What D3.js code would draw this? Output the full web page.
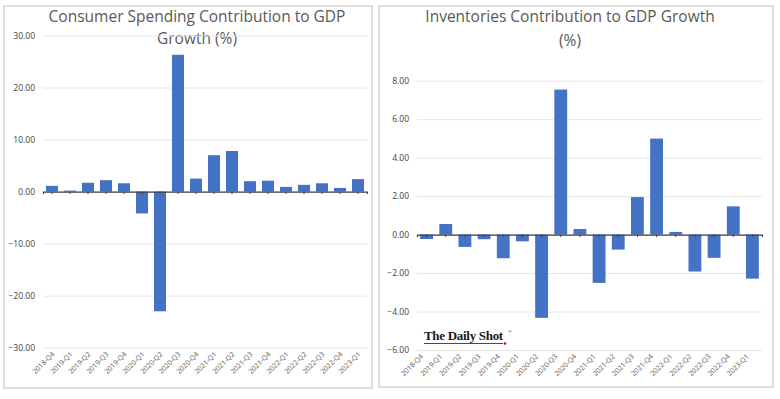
<!DOCTYPE html>
<html>
<head>
<meta charset="utf-8">
<script src="https://cdn.jsdelivr.net/npm/d3@7"></script>
<style>
  body { margin: 0; background: #fff; }
  svg { display: block; }
</style>
</head>
<body>
<div id="chart"></div>
<script>
// Quarters shown on both panels
const quarters = ["2018-Q4", "2019-Q1", "2019-Q2", "2019-Q3", "2019-Q4", "2020-Q1", "2020-Q2",
                  "2020-Q3", "2020-Q4", "2021-Q1", "2021-Q2", "2021-Q3", "2021-Q4", "2022-Q1",
                  "2022-Q2", "2022-Q3", "2022-Q4", "2023-Q1"];

// Consumer spending contribution to GDP growth (%)
const consumerValues = [1.1, 0.2, 1.7, 2.2, 1.6, -4.2, -23.0, 26.3, 2.5, 7.0, 7.8, 2.0, 2.1, 0.9, 1.3, 1.6, 0.7, 2.4];
const consumerTicks = [-30, -20, -10, 0, 10, 20, 30];

// Inventories contribution to GDP growth (%)
const inventoryValues = [-0.23, 0.55, -0.64, -0.24, -1.23, -0.35, -4.33, 7.54, 0.29, -2.51, -0.78, 1.95, 4.99, 0.14, -1.92, -1.21, 1.47, -2.29];
const inventoryTicks = [-6, -4, -2, 0, 2, 4, 6, 8];

const width = 780, height = 399;
const barColor = "#4472c4";
const textColor = "#595959";

const svg = d3.select("#chart")
              .append("svg")
              .attr("width", width)
              .attr("height", height);

function drawPanel(cfg) {
    // Panel frame
    svg.append("rect")
       .attr("x", cfg.box[0])
       .attr("y", cfg.box[1])
       .attr("width", cfg.box[2])
       .attr("height", cfg.box[3])
       .attr("fill", "#fff")
       .attr("stroke", "#d4d4d4")
       .attr("stroke-width", 1.5);

    // Title, two lines
    const title = svg.append("text")
                     .attr("text-anchor", "middle")
                     .attr("fill", textColor)
                     .style("font-family", "'Open Sans', sans-serif")
                     .style("font-size", "15.5px");
    cfg.title.forEach(function (line, i) {
        title.append("tspan")
             .attr("x", cfg.titleX)
             .attr("y", cfg.titleY[i])
             .text(line);
    });

    const xScale = d3.scaleBand()
                     .domain(quarters)
                     .range(cfg.xRange)
                     .paddingInner(0.33)
                     .paddingOuter(0.165);

    const yScale = d3.scaleLinear()
                     .domain(d3.extent(cfg.ticks))
                     .range(cfg.yRange);

    // Gridlines and tick labels
    const yAxis = svg.append("g")
                     .attr("transform", "translate(" + cfg.xRange[0] + ",0)")
                     .call(d3.axisLeft(yScale)
                             .tickValues(cfg.ticks)
                             .tickSize(-(cfg.xRange[1] - cfg.xRange[0]))
                             .tickPadding(8)
                             .tickFormat(d3.format(".2f")));
    yAxis.select(".domain").remove();
    yAxis.selectAll(".tick line").attr("stroke", "#e6e6e6").attr("stroke-width", 1);
    yAxis.selectAll(".tick text")
         .attr("fill", "#404040")
         .style("font-family", "'Open Sans', sans-serif")
         .style("font-size", "8.5px");

    // Bars
    svg.append("g")
       .selectAll("rect")
       .data(cfg.values)
       .join("rect")
       .attr("x", (d, i) => xScale(quarters[i]))
       .attr("y", d => yScale(Math.max(0, d)))
       .attr("width", xScale.bandwidth())
       .attr("height", d => Math.abs(yScale(d) - yScale(0)))
       .attr("fill", barColor);

    // Zero axis line with small ticks
    const zeroAxis = svg.append("g")
                        .attr("transform", "translate(0," + yScale(0) + ")")
                        .call(d3.axisBottom(xScale).tickSize(2.5).tickFormat(""));
    zeroAxis.select(".domain").attr("stroke", "#404040").attr("stroke-width", 1.2);
    zeroAxis.selectAll(".tick line").attr("stroke", "#404040");

    // Rotated category labels at the bottom
    svg.append("g")
       .selectAll("text")
       .data(quarters)
       .join("text")
       .attr("transform", d => "translate(" + (xScale(d) + xScale.bandwidth() / 2 + cfg.labelDx) + "," + (cfg.yRange[0] + 7) + ") rotate(-45)")
       .attr("text-anchor", "end")
       .attr("fill", textColor)
       .style("font-family", "'Open Sans', sans-serif")
       .style("font-size", "7px")
       .text(d => d);
}

drawPanel({
    box: [4, 6, 368, 382],
    title: ["Consumer Spending Contribution to GDP", "Growth (%)"],
    titleX: 197,
    titleY: [22, 44],
    values: consumerValues,
    ticks: consumerTicks,
    xRange: [43, 367],
    yRange: [347.7, 35.5],
    labelDx: 3
});

drawPanel({
    box: [379, 6, 394, 381],
    title: ["Inventories Contribution to GDP Growth", "(%)"],
    titleX: 570,
    titleY: [22, 46],
    values: inventoryValues,
    ticks: inventoryTicks,
    xRange: [417, 762],
    yRange: [350, 80.7],
    labelDx: -3
});

// The Daily Shot mark
const logo = svg.append("g");
logo.append("text")
    .attr("x", 424)
    .attr("y", 340)
    .attr("fill", "#1a1a1a")
    .style("font-family", "'Liberation Serif', serif")
    .style("font-size", "13px")
    .style("font-weight", "bold")
    .style("letter-spacing", "-0.3px")
    .text("The Daily Shot");
logo.append("line")
    .attr("x1", 424).attr("x2", 503)
    .attr("y1", 343.5).attr("y2", 343.5)
    .attr("stroke", "#1a1a1a").attr("stroke-width", 0.8);
logo.append("circle")
    .attr("cx", 505).attr("cy", 343.5).attr("r", 1.3)
    .attr("fill", "#d0021b");
logo.append("text")
    .attr("x", 508).attr("y", 333)
    .attr("fill", "#1a1a1a")
    .style("font-family", "'Liberation Serif', serif")
    .style("font-size", "5px")
    .text("®");
</script>
</body>
</html>
